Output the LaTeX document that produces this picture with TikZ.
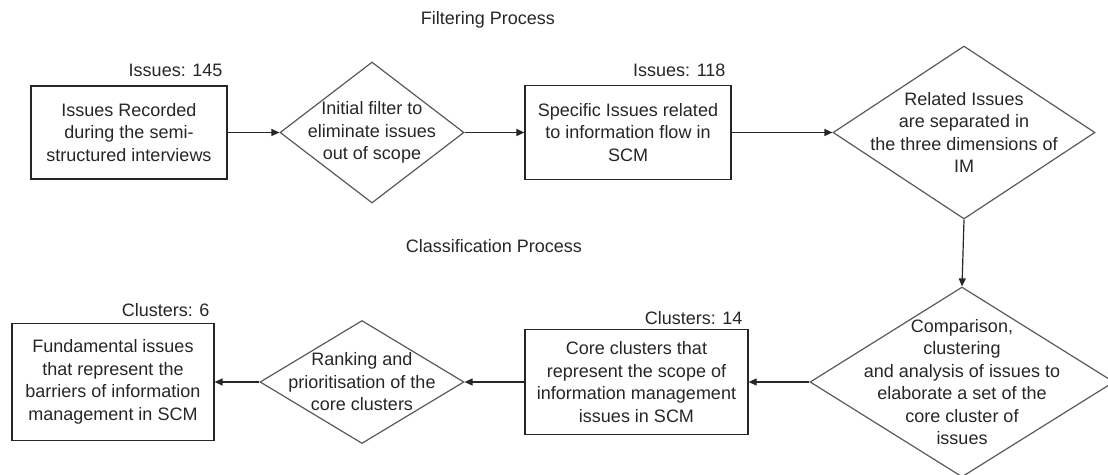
\documentclass[tikz,border=0pt]{standalone}
\usepackage{fontspec}
\setmainfont{Liberation Sans}
\usetikzlibrary{shapes.geometric}
\usetikzlibrary{arrows.meta}
\tikzset{
    mybox/.style={
        rectangle,       % 矩形
        draw=black!85,   % 边框颜色
        line width=1.2,  % 线宽
        inner sep=0,
        align=center,
        text=black!85,
        font=\fontsize{18}{22.5}\selectfont
    },
    mydiamond/.style={
        diamond,         % 菱形
        draw=black!65,   % 边框颜色
        line width=1.2,  % 线宽
        inner sep=0
    },
    mytext/.style={
        align=center,
        text=black!85,
        font=\fontsize{18}{22.5}\selectfont
    },
    myarrow/.style={
        -{Triangle[length=8,width=7]},
        line width=1.2,
        black!85
    }
}

\begin{document}
\begin{tikzpicture}[x=1pt, y=-1pt]

\clip (0,0) rectangle (1108,474);

\def\ya{132.5}
\def\yb{382}

% 标题
\node[mytext] (T1) at (488,20) {Filtering Process};
\node[mytext] (T2) at (494,246) {Classification Process};

% 第一行
\node[mybox, minimum width=196, minimum height=93] (B1) at (129,\ya)
    {Issues Recorded\\during the semi-\\structured interviews};
\node[mytext, anchor=east] (L1) at (226,70) {Issues: 145};

\node[mydiamond, minimum width=184, minimum height=141] (D1) at (372,\ya) {};
\node[mytext] (X1) at (D1) {Initial filter to\\eliminate issues\\out of scope};

\node[mybox, minimum width=206, minimum height=94] (B2) at (628,\ya)
    {Specific Issues related\\to information flow in\\SCM};
\node[mytext, anchor=east] (L2) at (729,70) {Issues: 118};

\node[mydiamond, minimum width=262, minimum height=173] (D2) at (964,\ya) {};
\node[mytext] (X2) at (D2) {Related Issues\\are separated in\\the three dimensions of\\IM};

% 第二行
\node[mydiamond, minimum width=304, minimum height=190] (D3) at (962,\yb) {};
\node[mytext] (X3) at (D3) {Comparison,\\clustering\\and analysis of issues to\\elaborate a set of the\\core cluster of\\issues};

\node[mybox, minimum width=223, minimum height=105] (B3) at (636.5,\yb)
    {Core clusters that\\represent the scope of\\information management\\issues in SCM};
\node[mytext, anchor=east] (L3) at (746,318) {Clusters: 14};

\node[mydiamond, minimum width=204, minimum height=123] (D4) at (362,\yb) {};
\node[mytext] (X4) at (D4) {Ranking and\\prioritisation of the\\core clusters};

\node[mybox, minimum width=202, minimum height=117] (B4) at (113,\yb)
    {Fundamental issues\\that represent the\\barriers of information\\management in SCM};
\node[mytext, anchor=east] (L4) at (213,310) {Clusters: 6};

% 箭头
\draw[myarrow] (B1) -- (D1);
\draw[myarrow] (D1) -- (B2);
\draw[myarrow] (B2) -- (D2);
\draw[myarrow] (D2.south) -- (D3.north);
\draw[myarrow] (D3) -- (B3);
\draw[myarrow] (B3) -- (D4);
\draw[myarrow] (D4) -- (B4);

\end{tikzpicture}
\end{document}
